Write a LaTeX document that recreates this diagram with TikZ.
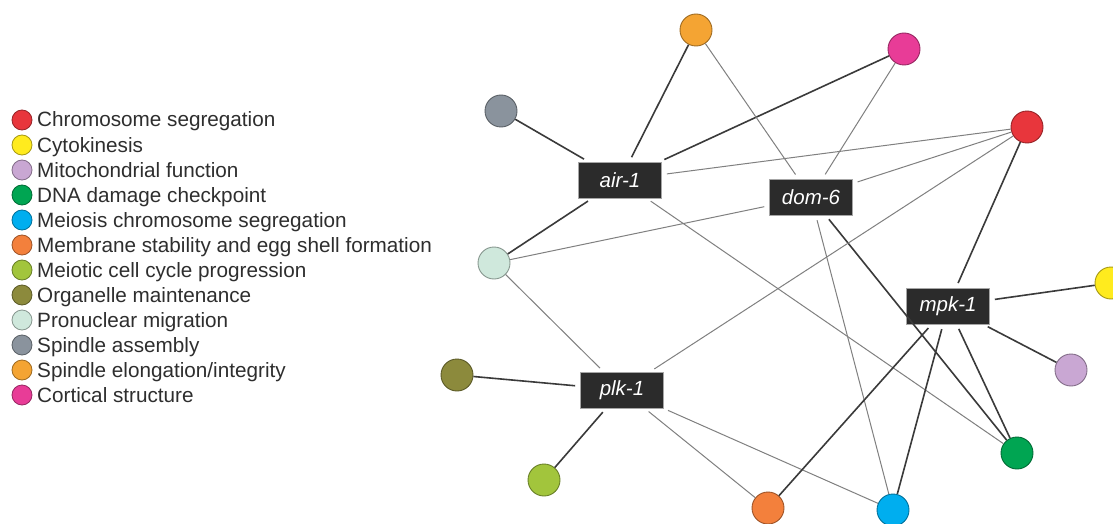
\documentclass[tikz,border=0pt]{standalone}
\usepackage{fontspec}
\setmainfont{Liberation Sans}
\definecolor{cRed}{HTML}{E8363C}
\definecolor{cYellow}{HTML}{FFEB1E}
\definecolor{cPurple}{HTML}{C9A7D3}
\definecolor{cGreen}{HTML}{00A552}
\definecolor{cBlue}{HTML}{00AEEF}
\definecolor{cMembr}{HTML}{F3803C}
\definecolor{cLime}{HTML}{A2C53C}
\definecolor{cOlive}{HTML}{8C8A3C}
\definecolor{cPale}{HTML}{CFE8DC}
\definecolor{cGray}{HTML}{8A939D}
\definecolor{cOrange}{HTML}{F4A433}
\definecolor{cMagenta}{HTML}{E83C97}
\definecolor{boxfill}{HTML}{2B2B2B}
\definecolor{strongline}{HTML}{3A3A3A}
\definecolor{weakline}{HTML}{808080}
\begin{document}
\begin{tikzpicture}[x=1pt,y=-1pt,
  term/.style={circle, minimum size=32pt, inner sep=0pt, line width=0.9pt, draw=#1!65!black, fill=#1},
  leg/.style={circle, minimum size=20pt, inner sep=0pt, line width=0.8pt, draw=#1!65!black, fill=#1},
  legtext/.style={anchor=base west, inner sep=0pt, font=\fontsize{20.7}{24}\selectfont, text=black!82},
  gene/.style={rectangle, fill=boxfill, draw=black!35, line width=0.7pt, minimum width=83pt, minimum height=36pt, inner sep=0pt, text=white, font=\fontsize{20.5}{24}\selectfont\itshape},
  strong/.style={draw=strongline, line width=1.6pt, shorten <=5pt},
  weak/.style={draw=weakline, line width=1pt, shorten <=5pt}]
\useasboundingbox (0,0) rectangle (1113,524);
\fill[white] (0,0) rectangle (1113,524);

% legend
\node[leg=cRed] (l1) at (22,120) {};
\node[legtext] (t1) at (37,127) {Chromosome segregation};
\node[leg=cYellow] (l2) at (22,145) {};
\node[legtext] (t2) at (37,152) {Cytokinesis};
\node[leg=cPurple] (l3) at (22,170) {};
\node[legtext] (t3) at (37,177) {Mitochondrial function};
\node[leg=cGreen] (l4) at (22,195) {};
\node[legtext] (t4) at (37,202) {DNA damage checkpoint};
\node[leg=cBlue] (l5) at (22,220) {};
\node[legtext] (t5) at (37,227) {Meiosis chromosome segregation};
\node[leg=cMembr] (l6) at (22,245) {};
\node[legtext] (t6) at (37,252) {Membrane stability and egg shell formation};
\node[leg=cLime] (l7) at (22,270) {};
\node[legtext] (t7) at (37,277) {Meiotic cell cycle progression};
\node[leg=cOlive] (l8) at (22,295) {};
\node[legtext] (t8) at (37,302) {Organelle maintenance};
\node[leg=cPale] (l9) at (22,320) {};
\node[legtext] (t9) at (37,327) {Pronuclear migration};
\node[leg=cGray] (l10) at (22,345) {};
\node[legtext] (t10) at (37,352) {Spindle assembly};
\node[leg=cOrange] (l11) at (22,370) {};
\node[legtext] (t11) at (37,377) {Spindle elongation/integrity};
\node[leg=cMagenta] (l12) at (22,395) {};
\node[legtext] (t12) at (37,402) {Cortical structure};

% term nodes
\node[term=cOrange] (orange) at (696,30) {};
\node[term=cMagenta] (magenta) at (904,49) {};
\node[term=cGray] (gray) at (501,111) {};
\node[term=cRed] (red) at (1027,127) {};
\node[term=cYellow] (yellow) at (1111,283) {};
\node[term=cPurple] (purple) at (1071,370) {};
\node[term=cGreen] (green) at (1017,453) {};
\node[term=cBlue] (blue) at (893,510) {};
\node[term=cMembr] (membr) at (768,508) {};
\node[term=cLime] (lime) at (544,480) {};
\node[term=cOlive] (olive) at (457,375) {};
\node[term=cPale] (pale) at (494,263) {};

% gene nodes
\node[gene] (air) at (620,180) {air-1};
\node[gene] (dom) at (811,197) {dom-6};
\node[gene] (mpk) at (948,306) {mpk-1};
\node[gene] (plk) at (622,390) {plk-1};

% edges: air-1
\draw[strong] (air) -- (gray);
\draw[strong] (air) -- (pale);
\draw[strong] (air) -- (orange);
\draw[strong] (air) -- (magenta);
\draw[weak] (air) -- (red);
\draw[weak] (air) -- (green);
% dom-6
\draw[weak] (dom) -- (orange);
\draw[weak] (dom) -- (magenta);
\draw[weak] (dom) -- (red);
\draw[weak] (dom) -- (pale);
\draw[weak] (dom) -- (blue);
\draw[strong] (dom) -- (green);
% plk-1
\draw[weak] (plk) -- (pale);
\draw[strong] (plk) -- (olive);
\draw[strong] (plk) -- (lime);
\draw[weak] (plk) -- (red);
\draw[weak] (plk) -- (membr);
\draw[weak] (plk) -- (blue);
% mpk-1
\draw[strong] (mpk) -- (red);
\draw[strong] (mpk) -- (yellow);
\draw[strong] (mpk) -- (purple);
\draw[strong] (mpk) -- (green);
\draw[strong] (mpk) -- (blue);
\draw[strong] (mpk) -- (membr);
\end{tikzpicture}
\end{document}
